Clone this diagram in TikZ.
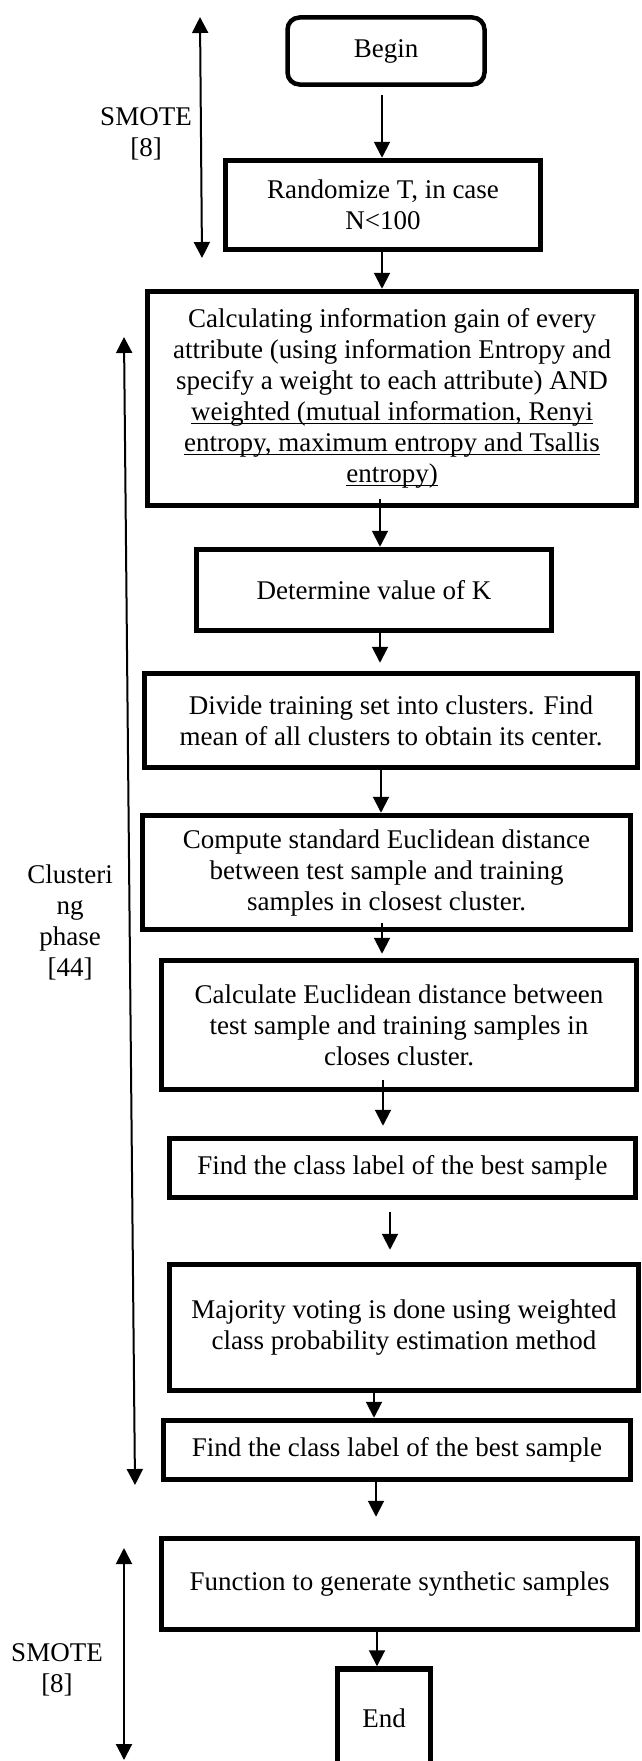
\documentclass[tikz,border=0pt]{standalone}
\usepackage{fontspec}
\setmainfont{Liberation Serif}
\usepackage{tikz}
\usetikzlibrary{arrows.meta,positioning}

\newcommand{\flowfont}{\fontsize{27pt}{31pt}\selectfont}
\newcommand{\ulinetext}[1]{\setbox0=\hbox{#1}\rlap{\rule[-3.5pt]{\wd0}{1.4pt}}\box0}

\begin{document}
\begin{tikzpicture}[
    x=1pt, y=-1pt,
    >={Triangle[width=16pt,length=16pt]},
    every node/.style={font=\flowfont},
    box/.style={
        rectangle,
        draw,
        line width=5.5pt,
        inner sep=0pt,
        align=center
    },
    startbox/.style={
        box,
        rounded corners=12pt,
        line width=4.5pt
    },
    arrow/.style={->, line width=2pt},
    phasearrow/.style={<->, line width=2pt}
]
    \useasboundingbox (0,0) rectangle (641,1761);

    % === SMOTE (first part) ===
    \node[startbox, minimum width=197pt, minimum height=67pt] (begin) at (386,51) {Begin};
    \node[box, minimum width=315pt, minimum height=89pt] (rand) at (383,205) {Randomize T, in case\\N<100};

    % === CLUSTERING PHASE ===
    \node[box, minimum width=489pt, minimum height=214pt] (calc) at (392,398.5) {
        Calculating information gain of every\\
        attribute (using information Entropy and\\
        specify a weight to each attribute) AND\\
        \ulinetext{weighted (mutual information, Renyi}\\
        \ulinetext{entropy, maximum entropy and Tsallis}\\
        \ulinetext{entropy)}
    };
    \node[box, minimum width=355pt, minimum height=81pt] (detk) at (374,590) {Determine value of K};
    \node[box, minimum width=493pt, minimum height=94pt] (divide) at (391,720.5) {
        Divide training set into clusters. Find\\
        mean of all clusters to obtain its center.
    };
    \node[box, minimum width=488pt, minimum height=114pt] (compute) at (386.5,872.5) {
        Compute standard Euclidean distance\\
        between test sample and training\\
        samples in closest cluster.
    };
    \node[box, minimum width=475pt, minimum height=129pt] (calcdist) at (399,1025) {
        Calculate Euclidean distance between\\
        test sample and training samples in\\
        closes cluster.
    };
    \node[box, minimum width=466pt, minimum height=59pt] (find1) at (402.5,1168) {Find the class label of the best sample};
    \node[box, minimum width=469pt, minimum height=126pt] (major) at (404,1327.5) {
        Majority voting is done using weighted\\
        class probability estimation method
    };
    \node[box, minimum width=467pt, minimum height=59pt] (find2) at (397,1450) {Find the class label of the best sample};

    % === SMOTE (second part) ===
    \node[box, minimum width=476pt, minimum height=91pt] (func) at (399.5,1584) {Function to generate synthetic samples};
    \node[box, minimum width=93pt, minimum height=98pt] (endb) at (384,1718) {End};

    % Flow arrows
    \draw[arrow, shorten <=8pt] (begin.south -| 382,0) -- (rand.north -| 382,0);
    \draw[arrow] (rand.south -| 382,0) -- (calc.north -| 382,0);
    \draw[arrow, shorten <=-9pt] (calc.south -| 380,0) -- (detk.north -| 380,0);
    \draw[arrow, shorten >=8pt] (detk.south -| 380,0) -- (divide.north -| 380,0);
    \draw[arrow] (divide.south -| 381,0) -- (compute.north -| 381,0);
    \draw[arrow, shorten <=-9pt, shorten >=4pt] (compute.south -| 382,0) -- (calcdist.north -| 382,0);
    \draw[arrow, shorten <=-12pt, shorten >=10pt] (calcdist.south -| 383,0) -- (find1.north -| 383,0);
    \draw[arrow, shorten <=12pt, shorten >=12pt] (find1.south -| 390,0) -- (major.north -| 390,0);
    \draw[arrow] (major.south -| 374,0) -- (find2.north -| 374,0);
    \draw[arrow, shorten >=19pt] (find2.south -| 376,0) -- (func.north -| 376,0);
    \draw[arrow] (func.south -| 377,0) -- (endb.north -| 377,0);

    % === PHASE MARKERS ON THE LEFT ===
    \coordinate (smoteAtop) at (200,17);
    \coordinate (smoteAbot) at (202,258);
    \coordinate (clusterTop) at (124,337);
    \coordinate (clusterBot) at (135,1485);
    \coordinate (smoteBtop) at (124,1548);
    \coordinate (smoteBbot) at (124,1760);

    \draw[phasearrow] (smoteAtop) -- (smoteAbot);
    \draw[phasearrow] (clusterTop) -- (clusterBot);
    \draw[phasearrow] (smoteBtop) -- (smoteBbot);

    \node[align=center] (smoteAlbl) at (146,134) {SMOTE\\{[8]}};
    \node[align=center] (clusterlbl) at (70,922) {Clusteri\\ng\\phase\\{[44]}};
    \node[align=center] (smoteBlbl) at (57,1670) {SMOTE\\{[8]}};
\end{tikzpicture}
\end{document}
